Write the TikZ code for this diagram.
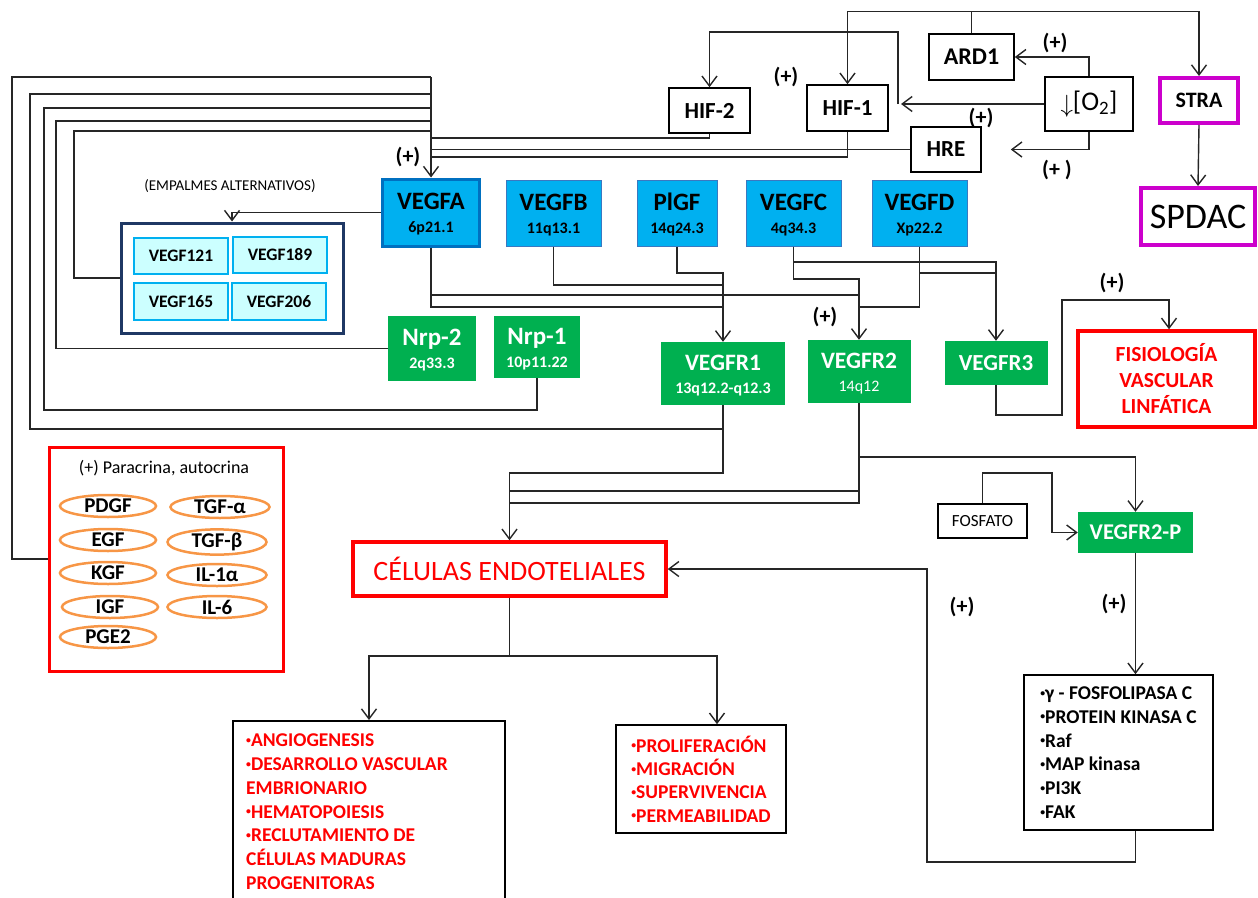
\documentclass[tikz,border=0pt]{standalone}
\usepackage{fontspec}
\usepackage{graphicx}
\setmainfont{Carlito}
\usetikzlibrary{arrows.meta,shapes.geometric,calc}
\definecolor{vblue}{HTML}{00B0F0}
\definecolor{vblueb}{HTML}{3B78C0}
\definecolor{vbluedark}{HTML}{0070C0}
\definecolor{vgreen}{HTML}{00B050}
\definecolor{vcyan}{HTML}{CCFFFF}
\definecolor{vnavy}{HTML}{1F3864}
\definecolor{vred}{HTML}{FF0000}
\definecolor{vmag}{HTML}{CC00CC}
\definecolor{vorange}{HTML}{F79646}
\newcommand{\mylbl}[3]{{\fontsize{#2}{#2}\selectfont\rule{0pt}{20.5pt}#1}\\#3}
\newcommand{\bul}{\raisebox{0.17em}{\scalebox{0.5}{•}}}
\tikzset{
  box/.style={draw=black, line width=1.6pt, inner sep=0pt, align=center},
  bbox/.style={fill=vblue, draw=vblueb, line width=1pt, inner sep=0pt, align=center,
    font=\fontsize{16}{23}\selectfont\bfseries},
  gbox/.style={fill=vgreen, text=white, inner sep=0pt, align=center,
    font=\fontsize{16}{23}\selectfont\bfseries},
  cbox/.style={fill=vcyan, draw=vblue, line width=1.5pt, inner sep=0pt,
    minimum width=94pt, font=\fontsize{17.5}{17.5}\selectfont\bfseries},
  redbox/.style={draw=vred, line width=3.5pt, inner sep=0pt, align=center},
  magbox/.style={draw=vmag, line width=4pt, inner sep=0pt, align=center},
  conn/.style={line width=1.4pt, draw=black!85},
  arr/.style={conn, -{Straight Barb[length=10pt,width=15pt]}},
  plus/.style={font=\fontsize{22}{22}\selectfont\bfseries, inner sep=0pt},
  ell/.style={ellipse, draw=vorange, line width=2.5pt, minimum height=22pt, inner sep=0pt,
    font=\fontsize{21}{21}\selectfont\bfseries},
  redlist/.style={inner sep=0pt, align=left, text=vred, font=\fontsize{19.5}{23.7}\selectfont\bfseries},
}
\begin{document}
\begin{tikzpicture}[x=1pt,y=-1pt]
\useasboundingbox (0,0) rectangle (1258,897);

% ---- top hypoxia block
\node[box, minimum width=85pt, minimum height=46pt, font=\fontsize{24}{24}\selectfont\bfseries] (ard1) at (971.5,57) {ARD1};
\node[box, minimum width=88pt, minimum height=54pt, font=\fontsize{27}{27}\selectfont] (o2) at (1089,104) {\raisebox{-2pt}{$\downarrow$}[O\textsubscript{2}]};
\node[magbox, minimum width=78pt, minimum height=45pt, font=\fontsize{22}{22}\selectfont\bfseries] (stra) at (1199,100.5) {STRA};
\node[magbox, minimum width=114pt, minimum height=57pt, font=\fontsize{36}{36}\selectfont] (spdac) at (1198,216.5) {SPDAC};
\node[box, minimum width=81pt, minimum height=45pt, font=\fontsize{23}{23}\selectfont\bfseries] (hif2) at (709.5,110.5) {HIF-2};
\node[box, minimum width=81pt, minimum height=46pt, font=\fontsize{23}{23}\selectfont\bfseries] (hif1) at (847.5,108) {HIF-1};
\node[box, minimum width=70pt, minimum height=45pt, font=\fontsize{23}{23}\selectfont\bfseries] (hre) at (946,149.5) {HRE};

% ---- VEGF ligands
\node[bbox, draw=vbluedark, line width=3pt, minimum width=97pt, minimum height=67pt] (vegfa) at (431,212.5) {\mylbl{VEGFA}{25}{6p21.1}};
\node[bbox, minimum width=95pt, minimum height=66pt] (vegfb) at (553.5,213) {\mylbl{VEGFB}{25}{11q13.1}};
\node[bbox, minimum width=80pt, minimum height=66pt] (plgf) at (677,213) {\mylbl{PlGF}{25}{14q24.3}};
\node[bbox, minimum width=95pt, minimum height=66pt] (vegfc) at (793.5,213) {\mylbl{VEGFC}{25}{4q34.3}};
\node[bbox, minimum width=95pt, minimum height=66pt] (vegfd) at (919.5,213) {\mylbl{VEGFD}{25}{Xp22.2}};

% ---- splice variants
\node[font=\fontsize{15}{15}\selectfont, inner sep=0pt] (empal) at (230,186) {(EMPALMES ALTERNATIVOS)};
\node[draw=vnavy, line width=3pt, minimum width=222pt, minimum height=110pt, inner sep=0pt] (splice) at (232,278) {};
\node[cbox, minimum height=36pt] (v121) at (181,256) {VEGF121};
\node[cbox, minimum height=36pt] (v189) at (280,255) {VEGF189};
\node[cbox, minimum height=37pt] (v165) at (181,301.5) {VEGF165};
\node[cbox, minimum height=37pt] (v206) at (279,301.5) {VEGF206};

% ---- receptors
\node[gbox, minimum width=88pt, minimum height=65pt] (nrp2) at (432,348.5) {\mylbl{Nrp-2}{25}{2q33.3}};
\node[gbox, minimum width=86pt, minimum height=62pt] (nrp1) at (537,347) {\mylbl{Nrp-1}{25}{10p11.22}};
\node[gbox, minimum width=124pt, minimum height=63pt] (vegfr1) at (723,373.5) {\mylbl{VEGFR1}{23.5}{13q12.2-q12.3}};
\node[gbox, minimum width=103pt, minimum height=63pt] (vegfr2) at (859,371.5) {\mylbl{VEGFR2}{23.5}{\mdseries 14q12}};
\node[gbox, minimum width=103pt, minimum height=44pt, font=\fontsize{23}{23}\selectfont\bfseries] (vegfr3) at (996,363) {VEGFR3};
\node[redbox, minimum width=177pt, minimum height=96pt, text=vred, font=\fontsize{21.5}{26}\selectfont\bfseries] (fisio) at (1166.5,379) {FISIOLOGÍA\\VASCULAR\\LINFÁTICA};

% ---- paracrine box
\node[draw=vred, line width=3pt, minimum width=234pt, minimum height=224pt, inner sep=0pt] (para) at (166,559) {};
\node[font=\fontsize{18}{18}\selectfont, inner sep=0pt] (paratitle) at (164,468) {(+) Paracrina, autocrina};
\node[ell, minimum width=96pt] (e1) at (108,506) {PDGF};
\node[ell, minimum width=96pt] (e2) at (108,540) {EGF};
\node[ell, minimum width=96pt] (e3) at (108,573) {KGF};
\node[ell, minimum width=96pt] (e4) at (110,607) {IGF};
\node[ell, minimum width=96pt] (e5) at (108,637) {PGE2};
\node[ell, minimum width=99pt] (e6) at (220,507) {TGF-α};
\node[ell, minimum width=99pt] (e7) at (217,542) {TGF-β};
\node[ell, minimum width=99pt] (e8) at (217,575) {IL-1α};
\node[ell, minimum width=99pt] (e9) at (217,607) {IL-6};

% ---- endothelial cells and outputs
\node[redbox, minimum width=313pt, minimum height=54pt, text=vred, font=\fontsize{28}{28}\selectfont] (cel) at (509.5,569) {CÉLULAS ENDOTELIALES};
\node[box, minimum width=272pt, minimum height=190pt, anchor=north] (out1) at (369,720) {};
\node[redlist, anchor=north west] (out1t) at (246,734) {\bul ANGIOGENESIS\\\bul DESARROLLO VASCULAR\\EMBRIONARIO\\\bul HEMATOPOIESIS\\\bul RECLUTAMIENTO DE\\CÉLULAS MADURAS\\PROGENITORAS};
\node[box, minimum width=170pt, minimum height=108pt, text=vred, font=\fontsize{19.5}{23.3}\selectfont\bfseries, align=left] (out2) at (701,779) {\bul PROLIFERACIÓN\\\bul MIGRACIÓN\\\bul SUPERVIVENCIA\\\bul PERMEABILIDAD};

% ---- phosphorylation
\node[box, minimum width=89pt, minimum height=34pt, font=\fontsize{17}{17}\selectfont] (fosfato) at (982.5,521) {FOSFATO};
\node[gbox, minimum width=115pt, minimum height=41pt, font=\fontsize{22.5}{22.5}\selectfont\bfseries] (vr2p) at (1135.5,532.5) {VEGFR2-P};
\node[box, minimum width=189pt, minimum height=155pt, align=left, font=\fontsize{19.5}{23.8}\selectfont\bfseries] (sig) at (1118.5,752.5) {\bul γ - FOSFOLIPASA C\\\bul PROTEIN KINASA C\\\bul Raf\\\bul MAP kinasa\\\bul PI3K\\\bul FAK};

% ---- (+) labels
\node[plus] (p1) at (786,77) {(+)};
\node[plus] (p2) at (1055,43) {(+)};
\node[plus] (p3) at (981,118) {(+)};
\node[plus] (p4) at (1057,170) {(+ )};
\node[plus] (p5) at (408,157) {(+)};
\node[plus] (p6) at (825,317) {(+)};
\node[plus] (p7) at (1112,283) {(+)};
\node[plus] (p8) at (962,607) {(+)};
\node[plus] (p9) at (1114,604) {(+)};

% ---- connectors: hypoxia
\draw[arr] (ard1.north) -- ++(0,-22) -| (hif1.north);
\draw[arr] (ard1.north) -- ++(0,-22) -| (stra.north);
\draw[arr] (o2.north) |- (ard1.east);
\draw[arr, shorten >=29pt] (o2.south) |- (hre.east);
\coordinate (o2c) at (898,104);
\draw[arr] (o2.west) -- ([xshift=3pt]o2c);
\draw[arr] (o2c) -- (898,32) -| (hif2.north);
\draw[arr] (stra.south) -- (spdac.north);

% ---- collector into VEGFA
\draw[arr] (vegfa.north |- 0,77) -- (vegfa.north);
\draw[conn] (hif2.south) |- (vegfa.north |- 0,138);
\draw[conn] (hre.west) -- (vegfa.north |- hre.west);
\draw[conn] (hif1.south) |- (vegfa.north |- 0,157);

% ---- feedback loops on the left
\draw[conn] (para.west) -| (12,77) -- (vegfa.north |- 0,77);
\draw[conn] (vegfr1.south) |- (30,429) |- (vegfa.north |- 0,94);
\draw[conn] (nrp1.south) |- (44,410) |- (vegfa.north |- 0,108);
\draw[conn] (nrp2.west) -| (56,121) -- (vegfa.north |- 0,121);
\draw[conn] (splice.west) -| (74,131) -- (vegfa.north |- 0,131);
\draw[arr] (vegfa.west) -| (splice.north);

% ---- ligands to receptors
\draw[conn] (vegfa.south) |- (vegfr1.north |- 0,307);
\draw[conn] (vegfa.south) |- (vegfr2.north |- 0,295);
\draw[conn] (vegfb.south) |- (vegfr1.north |- 0,285);
\draw[arr] (plgf.south) |- (vegfr1.north |- 0,273) -- (vegfr1.north);
\draw[arr] (vegfc.south) |- (vegfr2.north |- 0,279) -- (vegfr2.north);
\draw[conn] (vegfd.south) |- (vegfr2.north |- 0,307);
\draw[arr] (vegfc.south) |- (vegfr3.north |- 0,262) -- (vegfr3.north);
\draw[conn] (vegfd.south |- 0,273) -- (vegfr3.north |- 0,273);
\draw[arr] (vegfr3.south) |- (1062,415) |- (1169,300) -- (1169,0 |- fisio.north);

% ---- receptors to cells
\draw[arr] (vegfr1.south) |- (cel.north |- 0,473) -- (cel.north);
\draw[conn] (vegfr2.south) |- (cel.north |- 0,503);
\draw[conn] (vegfr2.south |- 0,491) -- (cel.north |- 0,491);
\draw[arr] (vegfr2.south) |- (vr2p.north |- 0,457) -- (vr2p.north);
\draw[arr] (fosfato.north) |- (1052,473) |- (vr2p.west);
\draw[arr] (vr2p.south) -- (vr2p.south |- sig.north);
\draw[arr] (vr2p.south |- sig.south) |- (927,862) |- (cel.east);
\draw[arr] (cel.south) |- (out1.north |- 0,656) -- (out1.north);
\draw[arr] (cel.south) |- (717,656) -- (717,0 |- out2.north);
\end{tikzpicture}
\end{document}
